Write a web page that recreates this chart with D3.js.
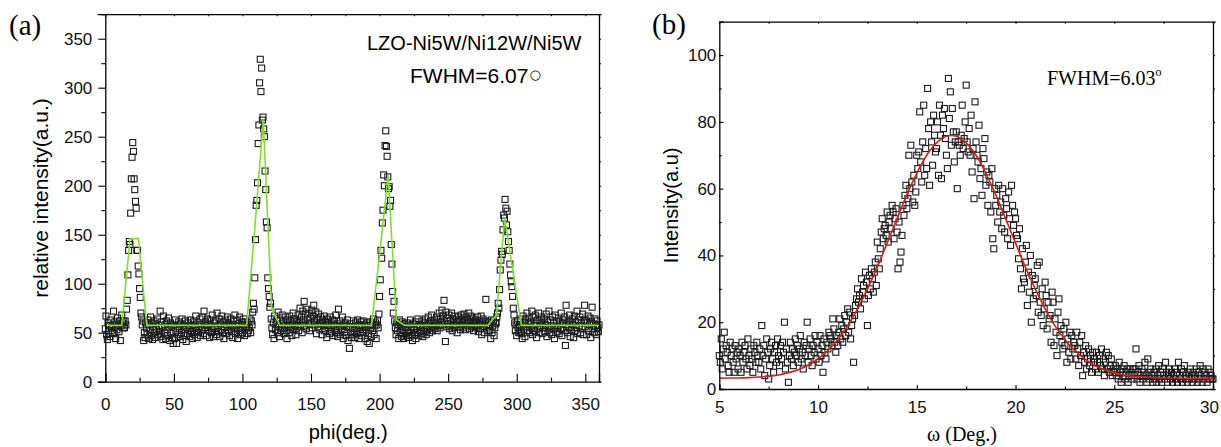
<!DOCTYPE html>
<html>
<head>
<meta charset="utf-8">
<script src="https://cdn.jsdelivr.net/npm/d3@7"></script>
<style>
  html, body { margin: 0; padding: 0; background: #fff; }
  svg { display: block; }
  .tick text { fill: #111; }
</style>
</head>
<body>
<svg id="chart" width="1221" height="447"></svg>
<script>
// ---------------- Panel (a) data: phi scan, 0.5 deg step from 0 to 360 ----------------
const phiStart = 0;
const phiStep = 0.5;
const phiIntensity = [
  54,67,48,43,60,52,57,46,63,55,50,58,72,49,61,44,56,53,65,58,
  51,62,42,57,68,60,55,62,55,62,58,74,83,109,134,143,140,172,207,229,
  244,235,207,196,184,177,134,134,118,110,95,86,70,66,58,62,42,50,45,60,
  55,48,63,44,58,52,66,47,60,43,56,62,50,45,59,53,64,48,57,51,
  72,46,61,55,43,67,50,58,44,62,53,47,65,56,42,60,49,57,45,39,
  58,44,63,52,39,56,48,61,54,46,59,50,64,43,57,53,47,62,41,55,
  49,60,54,46,63,57,51,44,58,62,48,55,67,52,45,60,50,56,64,47,
  58,53,66,49,72,55,61,47,57,64,52,59,45,63,56,50,68,54,46,60,
  55,62,48,70,57,51,64,46,59,53,67,50,61,44,56,63,49,58,66,52,
  60,47,56,64,51,58,45,62,54,68,49,57,63,44,59,52,66,48,55,61,
  50,58,64,47,56,61,55,49,60,52,55,64,50,62,58,71,80,74,106,145,
  180,185,203,243,262,305,329,296,320,267,270,258,250,215,196,163,157,106,95,87,
  76,80,64,55,48,60,44,67,53,58,62,50,71,56,46,63,52,59,68,54,
  61,49,57,66,52,44,63,58,50,67,55,62,47,59,70,53,64,57,48,61,
  56,68,52,63,75,58,66,50,72,61,82,57,69,54,74,63,59,70,52,65,
  60,73,55,67,78,62,58,71,49,64,56,69,60,53,66,59,48,63,57,67,
  52,61,58,45,64,55,60,49,66,57,51,63,47,58,62,54,68,50,59,46,
  74,56,62,48,57,53,66,44,58,51,60,47,56,63,42,55,34,59,50,45,
  56,48,62,52,45,60,54,49,63,57,44,58,51,61,47,55,62,50,58,44,
  53,60,41,57,49,39,61,55,46,58,52,64,48,57,60,44,58,62,55,69,
  87,104,134,126,162,175,211,200,241,256,240,230,209,197,199,179,185,140,120,92,
  70,82,62,55,48,60,52,58,44,63,50,57,46,61,53,44,59,49,56,47,
  60,52,45,58,50,63,47,55,42,59,53,48,61,44,56,50,64,47,58,52,
  57,49,62,46,55,60,51,64,48,57,53,66,59,50,62,55,68,52,60,57,
  63,54,59,66,52,61,57,70,55,64,60,73,58,67,83,62,41,71,56,65,
  59,68,54,62,57,70,52,64,60,55,67,58,63,50,61,66,56,62,53,68,
  58,64,55,69,61,53,66,57,63,59,70,54,62,67,56,60,65,52,61,57,
  63,55,60,66,51,58,62,54,67,48,59,64,56,50,62,84,57,61,52,60,
  52,58,44,63,50,57,62,47,55,59,60,66,70,80,75,94,114,124,133,130,
  155,170,167,186,177,160,174,153,143,134,120,109,102,97,87,75,68,60,52,58,
  47,62,55,50,58,51,64,49,44,67,53,60,46,63,56,70,52,59,65,50,
  61,55,72,48,66,57,52,68,59,45,63,54,70,50,62,57,66,49,60,55,
  64,51,58,69,46,61,55,72,50,63,57,48,66,53,60,44,68,55,62,51,
  57,65,49,61,54,70,47,59,63,52,66,37,78,58,50,62,55,68,46,60,
  53,64,58,45,67,52,61,55,72,49,63,57,66,50,60,54,69,48,62,78,
  56,63,48,60,67,52,58,65,45,61,76,54,59,50,64,57,48,62,55,51,
  58
];
// Fitted curve of panel (a): vertices
const fitPhi = [0, 12, 18.07, 24.14, 30.2, 103.05, 109.1, 115.2, 121.3, 127.3,
                194.1, 200.2, 206.2, 212.3, 218.4, 279.1, 285.2, 291.2, 297.3, 303.4, 360];
const fitPhiVal = [57.5, 57.5, 146, 146, 57.5, 57.5, 158, 267, 75, 57.5,
                   57.5, 132, 211, 63, 57.5, 57.5, 68, 167, 112, 57.5, 57.5];
const xTicksA = [0, 50, 100, 150, 200, 250, 300, 350];
const yTicksA = [0, 50, 100, 150, 200, 250, 300, 350];

// ---------------- Panel (b) data: omega scan, 0.05 deg step from 5 to 30 ----------------
const omegaStart = 5;
const omegaStep = 0.05;
const omegaIntensity = [
  10,8,15,6,12,17,9,13,11,7,5,14,10,12,8,5,13,9,11,6,
  12,10,5,14,8,11,13,9,6,15,10,7,12,9,5,13,11,8,14,10,
  8,12,6,19,10,13,4,9,15,11,3,7,12,14,9,5,11,13,8,15,
  10,7,13,9,14,11,20,6,12,8,2,10,14,9,12,7,11,15,10,13,
  8,12,16,9,11,6,14,10,13,20,8,12,15,10,7,13,11,16,9,14,
  12,8,16,10,13,5,15,11,9,14,12,17,16,15,13,21,18,14,11,16,
  13,17,21,15,19,14,18,22,16,20,24,17,23,15,19,21,8,22,25,27,
  30,26,28,24,33,29,31,27,35,32,19,28,34,30,36,33,29,35,38,31,
  44,39,36,42,47,51,45,48,49,46,53,44,50,52,48,55,53,45,51,54,
  47,36,50,38,41,46,55,52,58,61,54,57,70,60,73,62,56,64,55,59,
  70,66,71,83,68,62,74,85,64,72,66,90,78,61,80,74,67,82,76,71,
  72,80,64,85,76,63,82,78,84,75,70,66,93,81,89,73,84,77,68,74,
  77,60,74,73,70,76,85,72,75,80,91,74,71,78,70,82,65,72,57,86,
  74,70,68,79,63,66,58,72,69,75,61,65,55,64,62,53,66,45,42,60,
  55,58,50,61,53,56,48,60,52,47,57,54,45,59,51,43,61,55,49,53,
  51,46,45,39,48,36,30,42,33,32,38,43,25,35,29,40,20,34,27,31,
  33,28,37,23,38,26,22,30,19,24,32,28,18,26,21,22,14,29,26,13,
  21,17,10,23,27,16,19,14,12,18,13,20,8,15,11,17,9,16,12,14,
  13,9,17,12,7,14,10,16,4,11,8,13,6,9,12,7,10,5,11,8,
  9,6,11,8,5,10,7,12,6,9,4,8,11,6,10,5,7,9,4,6,
  5,7,4,6,3,8,5,2,6,4,7,3,5,6,2,4,6,5,3,6,
  4,6,12,3,5,7,2,4,6,3,5,8,4,2,9,5,3,6,4,2,
  5,3,6,2,4,7,3,5,2,6,4,3,8,5,2,4,6,3,5,2,
  4,6,3,5,2,8,4,3,6,2,5,7,3,4,2,5,3,6,4,2,
  5,3,4,6,2,5,3,7,4,2,6,3,5,4,2,6,3,5,4,3,
  3
];
// Fitted curve of panel (b), read every 0.5 deg
const fitOmega = [5,5.5,6,6.5,7,7.5,8,8.5,9,9.5,10,10.5,11,11.5,12,12.5,13,13.5,14,14.5,
                  15,15.5,16,16.5,17,17.5,18,18.5,19,19.5,20,20.5,21,21.5,22,22.5,23,23.5,24,24.5,
                  25,25.5,26,26.5,27,27.5,28,28.5,29,29.5,30];
const fitOmegaVal = [3.2,3.3,3.3,3.4,3.6,3.8,4.2,4.9,5.8,7.1,9.0,11.5,14.8,18.9,24.0,29.9,36.5,43.7,51.0,58.2,
                     64.6,70.0,73.7,75.7,75.7,73.7,70.0,64.6,58.2,51.0,43.7,36.5,29.9,24.0,18.9,14.8,11.5,9.0,7.1,5.8,
                     4.9,4.2,3.8,3.6,3.4,3.3,3.3,3.2,3.2,3.2,3.2];
const xTicksB = [5, 10, 15, 20, 25, 30];
const yTicksB = [0, 20, 40, 60, 80, 100];

// ---------------- Drawing ----------------
const svg = d3.select("#chart");
const SANS = "'Liberation Sans', Arial, Helvetica, sans-serif";
const SERIF = "'Liberation Serif', 'Times New Roman', serif";

const phiPts = phiIntensity.map((v, i) => ({x: phiStart + i * phiStep, y: v}));
const omegaPts = omegaIntensity.map((v, i) => ({x: omegaStart + i * omegaStep, y: v}));

function styleAxis(g, fs) {
  g.select(".domain").attr("stroke", "#000").attr("stroke-width", 1.3);
  g.selectAll(".tick line").attr("stroke", "#000").attr("stroke-width", 1.1);
  g.selectAll(".tick text").attr("font-family", SANS).attr("font-size", fs);
}

function minorTicks(lo, hi, step) {
  const out = [];
  for (let v = lo; v <= hi + 1e-9; v += step) out.push(+v.toFixed(4));
  return out;
}

function drawSquares(g, pts, x, y) {
  g.selectAll("rect.pt").data(pts).join("rect")
    .attr("class", "pt")
    .attr("x", d => x(d.x) - 3)
    .attr("y", d => y(d.y) - 3)
    .attr("width", 6).attr("height", 6)
    .attr("fill", "none")
    .attr("stroke", "#1c1c1c")
    .attr("stroke-width", 1.1);
}

// ===== Panel (a) =====
{
  const x = d3.scaleLinear().domain([0, 360]).range([105.3, 599]);
  const y = d3.scaleLinear().domain([0, 375]).range([381.7, 14.2]);
  const g = svg.append("g");

  drawSquares(g.append("g"), phiPts, x, y);

  g.append("path")
    .datum(fitPhi.map((p, i) => ({x: p, y: fitPhiVal[i]})))
    .attr("fill", "none")
    .attr("stroke", "#7fe02a")
    .attr("stroke-width", 1.6)
    .attr("d", d3.line().x(d => x(d.x)).y(d => y(d.y)));

  // bottom axis (inward ticks)
  const bx = g.append("g").attr("transform", `translate(0,${y(0)})`)
    .call(d3.axisBottom(x).tickValues(xTicksA).tickSize(-8).tickPadding(16).tickFormat(d3.format("d")));
  styleAxis(bx, 17);
  const bxm = g.append("g").attr("transform", `translate(0,${y(0)})`)
    .call(d3.axisBottom(x).tickValues(minorTicks(25, 350, 50)).tickSize(-4).tickFormat(""));
  styleAxis(bxm, 17); bxm.select(".domain").remove();

  // left axis (outward ticks)
  const ly = g.append("g").attr("transform", `translate(${x(0)},0)`)
    .call(d3.axisLeft(y).tickValues(yTicksA).tickSize(7).tickPadding(6).tickFormat(d3.format("d")));
  styleAxis(ly, 17);
  const lym = g.append("g").attr("transform", `translate(${x(0)},0)`)
    .call(d3.axisLeft(y).tickValues(minorTicks(25, 375, 50)).tickSize(4).tickFormat(""));
  styleAxis(lym, 17); lym.select(".domain").remove();

  // top and right frame
  const tx = g.append("g").attr("transform", `translate(0,${y(375)})`)
    .call(d3.axisTop(x).tickValues(minorTicks(25, 350, 25)).tickSize(-2).tickFormat(""));
  styleAxis(tx, 17);
  const ry = g.append("g").attr("transform", `translate(${x(360)},0)`)
    .call(d3.axisRight(y).tickValues(minorTicks(25, 350, 25)).tickSize(2).tickFormat(""));
  styleAxis(ry, 17);
  g.selectAll(".domain").attr("stroke-linecap", "square");

  g.append("text").attr("x", 9).attr("y", 35)
    .attr("font-family", SERIF).attr("font-size", 29).text("(a)");

  g.append("text")
    .attr("transform", `translate(48,${(y(0) + y(375)) / 2}) rotate(-90)`)
    .attr("text-anchor", "middle")
    .attr("font-family", SANS).attr("font-size", 21)
    .text("relative intensity(a.u.)");

  g.append("text").attr("x", (x(0) + x(360)) / 2 - 4).attr("y", 439)
    .attr("text-anchor", "middle")
    .attr("font-family", SANS).attr("font-size", 20)
    .text("phi(deg.)");

  g.append("text").attr("x", 367).attr("y", 50)
    .attr("font-family", SANS).attr("font-size", 20)
    .text("LZO-Ni5W/Ni12W/Ni5W");

  const fw = g.append("text").attr("x", 410).attr("y", 83)
    .attr("font-family", SANS).attr("font-size", 21)
    .text("FWHM=6.07");
  fw.append("tspan").attr("font-size", 13).attr("dy", -4).attr("dx", 1)
    .attr("font-family", "'DejaVu Sans', sans-serif").text("○");
}

// ===== Panel (b) =====
{
  const x = d3.scaleLinear().domain([5, 30]).range([719.3, 1213]);
  const y = d3.scaleLinear().domain([0, 110]).range([389, 21.7]);
  const g = svg.append("g");

  drawSquares(g.append("g"), omegaPts, x, y);

  g.append("path")
    .datum(fitOmega.map((p, i) => ({x: p, y: fitOmegaVal[i]})))
    .attr("fill", "none")
    .attr("stroke", "#d81e1e")
    .attr("stroke-width", 1.6)
    .attr("d", d3.line().curve(d3.curveCatmullRom).x(d => x(d.x)).y(d => y(d.y)));

  const bx = g.append("g").attr("transform", `translate(0,${y(0)})`)
    .call(d3.axisBottom(x).tickValues(xTicksB).tickSize(-4).tickPadding(12).tickFormat(d3.format("d")));
  styleAxis(bx, 17);
  // keep the last label inside the window
  bx.selectAll(".tick text").filter(d => d === 30).attr("dx", -4);
  const bxm = g.append("g").attr("transform", `translate(0,${y(0)})`)
    .call(d3.axisBottom(x).tickValues(minorTicks(7.5, 27.5, 5)).tickSize(-2.5).tickFormat(""));
  styleAxis(bxm, 17); bxm.select(".domain").remove();

  const ly = g.append("g").attr("transform", `translate(${x(5)},0)`)
    .call(d3.axisLeft(y).tickValues(yTicksB).tickSize(-4).tickPadding(3).tickFormat(d3.format("d")));
  styleAxis(ly, 17);
  const lym = g.append("g").attr("transform", `translate(${x(5)},0)`)
    .call(d3.axisLeft(y).tickValues(minorTicks(10, 110, 20)).tickSize(-2.5).tickFormat(""));
  styleAxis(lym, 17); lym.select(".domain").remove();

  const tx = g.append("g").attr("transform", `translate(0,${y(110)})`)
    .call(d3.axisTop(x).tickValues(minorTicks(7.5, 27.5, 2.5)).tickSize(-2).tickFormat(""));
  styleAxis(tx, 17);
  const ry = g.append("g").attr("transform", `translate(${x(30)},0)`)
    .call(d3.axisRight(y).tickValues(minorTicks(10, 100, 10)).tickSize(2).tickFormat(""));
  styleAxis(ry, 17);
  g.selectAll(".domain").attr("stroke-linecap", "square");

  g.append("text").attr("x", 652).attr("y", 34)
    .attr("font-family", SERIF).attr("font-size", 29).text("(b)");

  g.append("text")
    .attr("transform", `translate(678,${(y(0) + y(110)) / 2}) rotate(-90)`)
    .attr("text-anchor", "middle")
    .attr("font-family", SANS).attr("font-size", 20)
    .text("Intensity(a.u)");

  g.append("text").attr("x", 962).attr("y", 441)
    .attr("text-anchor", "middle")
    .attr("font-family", SERIF).attr("font-size", 20)
    .text("ω (Deg.)");

  const fw = g.append("text").attr("x", 1047).attr("y", 85)
    .attr("font-family", SERIF).attr("font-size", 20)
    .text("FWHM=6.03");
  fw.append("tspan").attr("font-size", 12).attr("dy", -9).text("o");
}
</script>
</body>
</html>
